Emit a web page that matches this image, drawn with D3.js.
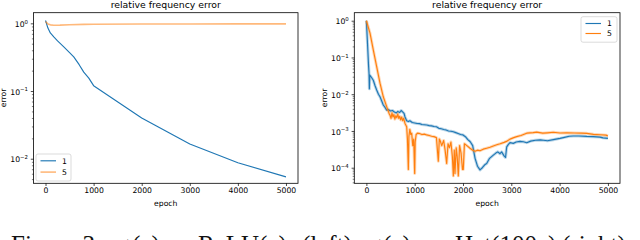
<!DOCTYPE html>
<html>
<head>
<meta charset="utf-8">
<script src="https://cdn.jsdelivr.net/npm/d3@7"></script>
<style>
  body { margin: 0; background: #fff; }
  svg { display: block; }
</style>
</head>
<body>
<svg id="chart" width="640" height="240"></svg>
<script>
// x ticks (epoch) and legend names
const epochTicks = [0, 1000, 2000, 3000, 4000, 5000];
const seriesNames = ["1", "5"];
const leftDecades = [1e-2, 1e-1, 1e0];
const rightDecades = [1e-4, 1e-3, 1e-2, 1e-1, 1e0];

// left panel: ReLU
const leftOne = [[0,1.10],[50,0.85],[100,0.72],[172,0.63],[250,0.55],[380,0.45],[500,0.37],[587,0.32],
  [700,0.245],[795,0.19],[900,0.155],[1000,0.12],[2000,0.040],[3000,0.0165],[4000,0.0087],[5000,0.0054]];
const leftFive = [[0,1.06],[50,0.98],[100,0.95],[170,0.935],[300,0.94],[500,0.955],[800,0.965],[1000,0.97],
  [2000,0.975],[3000,0.978],[4000,0.98],[5000,0.98]];

// right panel: Hat(100x)
const rightOne = [[0,1.0],[20,0.3],[45,0.06],[55,0.037],[62,0.014],[70,0.033],[85,0.031],[110,0.028],[143,0.024],
  [180,0.017],[213,0.013],[250,0.010],[282,0.0085],[320,0.0064],[350,0.0051],[390,0.0043],[420,0.0037],[460,0.0038],
  [500,0.0035],[540,0.0036],[580,0.0033],[620,0.0031],[650,0.0034],[690,0.0032],[720,0.0036],[750,0.0033],[780,0.0030],
  [800,0.0024],[834,0.0019],[870,0.0018],[900,0.0019],[950,0.0017],[1000,0.00165],[1050,0.0016],[1100,0.00158],
  [1150,0.0015],[1200,0.00148],[1250,0.00145],[1300,0.0014],[1350,0.00138],[1400,0.00132],[1450,0.0013],[1500,0.00118],
  [1550,0.00115],[1600,0.0011],[1650,0.00106],[1700,0.001],[1750,0.00098],[1800,0.00095],[1850,0.0009],[1900,0.00085],
  [1950,0.0008],[2000,0.00078],[2050,0.0007],[2100,0.00058],[2150,0.00051],[2200,0.0004],[2250,0.00018],[2300,0.00011],
  [2352,0.000087],[2400,0.0001],[2450,0.00012],[2490,0.00013],[2550,0.00018],[2628,0.00022],[2680,0.00025],[2720,0.00027],
  [2766,0.00024],[2800,0.00027],[2850,0.00021],[2880,0.00019],[2905,0.00037],[2940,0.00043],[2973,0.00048],[3042,0.00046],
  [3100,0.0005],[3180,0.00052],[3250,0.00051],[3319,0.00048],[3400,0.00053],[3500,0.00056],[3600,0.00057],[3663,0.00056],
  [3750,0.00054],[3870,0.00058],[4008,0.00063],[4100,0.00067],[4200,0.00072],[4284,0.00073],[4400,0.00073],[4561,0.00071],
  [4700,0.0007],[4837,0.00068],[4900,0.00065],[5000,0.00063]];
const rightFive = [[0,1.0],[75,0.46],[143,0.16],[213,0.056],[282,0.02],[350,0.0085],[420,0.0046],[470,0.0030],[489,0.0027],
  [510,0.0022],[530,0.0031],[550,0.0024],[570,0.0028],[590,0.0021],[610,0.0026],[630,0.0023],[650,0.0029],[670,0.0022],
  [690,0.0025],[710,0.0020],[730,0.0024],[750,0.0019],[770,0.0022],[800,0.0016],[834,0.0013],[850,0.0006],[869,0.00009],
  [880,0.0007],[900,0.0011],[920,0.0008],[938,0.00087],[960,0.0004],[980,0.0006],[1000,0.00007],[1010,0.0005],[1030,0.0008],
  [1060,0.00087],[1100,0.00085],[1150,0.0008],[1200,0.00082],[1248,0.00078],[1300,0.00075],[1350,0.00072],[1400,0.0007],
  [1450,0.00066],[1489,0.00015],[1510,0.0006],[1524,0.00056],[1560,0.0004],[1600,0.00055],[1630,0.0003],[1662,0.00013],
  [1690,0.00045],[1720,0.00035],[1750,0.0005],[1780,0.0002],[1800,0.00006],[1820,0.0003],[1834,0.00007],[1860,0.00035],
  [1880,0.0002],[1903,0.00006],[1930,0.0004],[1960,0.00025],[1990,0.00009],[2006,0.00009],[2030,0.00045],[2080,0.0004],
  [2145,0.00034],[2200,0.0003],[2249,0.00028],[2300,0.0003],[2352,0.00029],[2420,0.00032],[2490,0.00034],[2560,0.00036],
  [2628,0.00039],[2698,0.00042],[2770,0.00045],[2850,0.00049],[2900,0.00052],[2973,0.0006],[3050,0.00066],[3112,0.0007],
  [3200,0.00075],[3319,0.00087],[3387,0.00089],[3450,0.0009],[3526,0.00093],[3650,0.00087],[3750,0.00089],[3870,0.00092],
  [4008,0.00088],[4150,0.00089],[4300,0.00088],[4450,0.00087],[4561,0.00086],[4700,0.00081],[4837,0.00079],[4961,0.00077],
  [5000,0.00073]];

const blue = "#1f77b4", orange = "#ff7f0e";
const svg = d3.select("#chart");
const sans = "DejaVu Sans, sans-serif";

function panel(o) {
  const x = d3.scaleLinear().domain([-250, 5250]).range([o.left, o.right]);
  const y = d3.scaleLog().domain(o.yDomain).range([o.bottom, o.top]);
  const g = svg.append("g");

  // minor ticks on log axis
  const lo = Math.floor(Math.log10(o.yDomain[0])), hi = Math.ceil(Math.log10(o.yDomain[1]));
  const minor = [];
  for (let d = lo; d <= hi; d++) for (let k = 2; k <= 9; k++) {
    const v = k * Math.pow(10, d);
    if (v >= o.yDomain[0] && v <= o.yDomain[1]) minor.push(v);
  }
  g.append("g").attr("transform", `translate(${o.left},0)`)
    .call(d3.axisLeft(y).tickValues(minor).tickSize(1.6).tickFormat(""))
    .call(a => a.select(".domain").remove())
    .call(a => a.selectAll("line").attr("stroke-width", 0.5));

  g.append("g").attr("transform", `translate(${o.left},0)`)
    .call(d3.axisLeft(y).tickValues(o.decades).tickSize(2.7).tickFormat(""))
    .call(a => a.select(".domain").remove())
    .call(a => a.selectAll("line").attr("stroke-width", 0.7));
  o.decades.forEach(v => {
    const t = g.append("text").attr("x", o.left - 5.5).attr("y", y(v) + 3.6)
      .attr("text-anchor", "end").attr("font-family", sans).attr("font-size", 7.7).attr("fill", "#000");
    t.append("tspan").text("10");
    const e = Math.round(Math.log10(v));
    t.append("tspan").attr("dy", -3.2).attr("font-size", 5.4).text(e < 0 ? "\u2212" + (-e) : String(e));
  });

  g.append("g").attr("transform", `translate(0,${o.bottom})`)
    .call(d3.axisBottom(x).tickValues(epochTicks).tickSize(2.7).tickPadding(2).tickFormat(d3.format("d")))
    .call(a => a.select(".domain").remove())
    .call(a => a.selectAll("line").attr("stroke-width", 0.7))
    .call(a => a.selectAll("text").attr("font-family", sans).attr("font-size", 7.7).attr("fill", "#000"));

  // clip
  const cid = "clip" + o.id;
  svg.append("clipPath").attr("id", cid).append("rect")
    .attr("x", o.left).attr("y", o.top).attr("width", o.right - o.left).attr("height", o.bottom - o.top);

  const line = d3.line().x(d => x(d[0])).y(d => y(d[1]));
  const plot = g.append("g").attr("clip-path", `url(#${cid})`);
  o.series.forEach(s => {
    if (s.band) plot.append("path").datum(s.data).attr("d", line).attr("fill", "none")
      .attr("stroke", s.color).attr("stroke-opacity", 0.3).attr("stroke-width", 3).attr("stroke-linejoin", "round");
    plot.append("path").datum(s.data).attr("d", line).attr("fill", "none")
      .attr("stroke", s.color).attr("stroke-opacity", s.alpha).attr("stroke-width", s.width)
      .attr("stroke-linejoin", "round");
  });

  // frame
  g.append("rect").attr("x", o.left).attr("y", o.top).attr("width", o.right - o.left).attr("height", o.bottom - o.top)
    .attr("fill", "none").attr("stroke", "#000").attr("stroke-width", 0.8);

  const cx = (o.left + o.right) / 2;
  g.append("text").attr("x", cx).attr("y", 8.3).attr("text-anchor", "middle")
    .attr("font-family", sans).attr("font-size", 9.3).text("relative frequency error");
  g.append("text").attr("x", cx).attr("y", 205.5).attr("text-anchor", "middle")
    .attr("font-family", sans).attr("font-size", 7.7).text("epoch");
  g.append("text").attr("transform", `translate(${o.ylabX},98) rotate(-90)`).attr("text-anchor", "middle")
    .attr("font-family", sans).attr("font-size", 7.7).text("error");

  // legend
  const L = o.legend;
  const lg = g.append("g");
  lg.append("rect").attr("x", L.x).attr("y", L.y).attr("width", L.w).attr("height", L.h).attr("rx", 2)
    .attr("fill", "#fff").attr("fill-opacity", 0.8).attr("stroke", "#cccccc").attr("stroke-width", 0.7);
  o.series.forEach((s, i) => {
    const yy = L.y + 6.8 + i * L.gap;
    lg.append("line").attr("x1", L.x + 4.5).attr("x2", L.x + 20).attr("y1", yy).attr("y2", yy)
      .attr("stroke", s.color).attr("stroke-opacity", s.alpha).attr("stroke-width", s.width);
    lg.append("text").attr("x", L.x + 26).attr("y", yy + 2.8).attr("font-family", sans).attr("font-size", 7.7)
      .text(seriesNames[i]);
  });
}

panel({
  id: "L", left: 33.5, right: 298, top: 12.7, bottom: 183.3, ylabX: 6.3,
  yDomain: [Math.pow(10, -2.363), Math.pow(10, 0.157)], decades: leftDecades,
  series: [
    { data: leftOne, color: blue, alpha: 1, width: 1.15 },
    { data: leftFive, color: orange, alpha: 0.55, width: 1.6 }
  ],
  legend: { x: 36, y: 154, w: 35, h: 27, gap: 11.3 }
});

panel({
  id: "R", left: 354.3, right: 620, top: 12.7, bottom: 183.3, ylabX: 326.5,
  yDomain: [Math.pow(10, -4.424), Math.pow(10, 0.218)], decades: rightDecades,
  series: [
    { data: rightOne, color: blue, alpha: 1, width: 1.15, band: true },
    { data: rightFive, color: orange, alpha: 1, width: 1.15, band: true }
  ],
  legend: { x: 581, y: 16.7, w: 36, h: 25.5, gap: 10 }
});

// figure caption (cut off by the frame bottom, as in the source image)
const cap = svg.append("text").attr("y", 252.6).attr("font-family", "Liberation Serif, Times New Roman, serif")
  .attr("font-size", 25).attr("fill", "#111");
cap.append("tspan").attr("x", 11).text("Figure 3:");
cap.append("tspan").attr("x", 115).attr("font-style", "italic").text("\u03c3");
cap.append("tspan").attr("x", 132).text("(");
cap.append("tspan").attr("font-style", "italic").text("x");
cap.append("tspan").text(")");
cap.append("tspan").attr("x", 171).text("=");
cap.append("tspan").attr("x", 198).text("ReLU(");
cap.append("tspan").attr("font-style", "italic").text("x");
cap.append("tspan").text(")");
cap.append("tspan").attr("x", 302).text("(left),");
cap.append("tspan").attr("x", 367).attr("font-style", "italic").text("\u03c3");
cap.append("tspan").attr("x", 383).text("(");
cap.append("tspan").attr("font-style", "italic").text("x");
cap.append("tspan").text(")");
cap.append("tspan").attr("x", 422).text("=");
cap.append("tspan").attr("x", 455).text("Hat(100");
cap.append("tspan").attr("font-style", "italic").text("x");
cap.append("tspan").text(")");
cap.append("tspan").attr("x", 562).text("(right).");
</script>
</body>
</html>
